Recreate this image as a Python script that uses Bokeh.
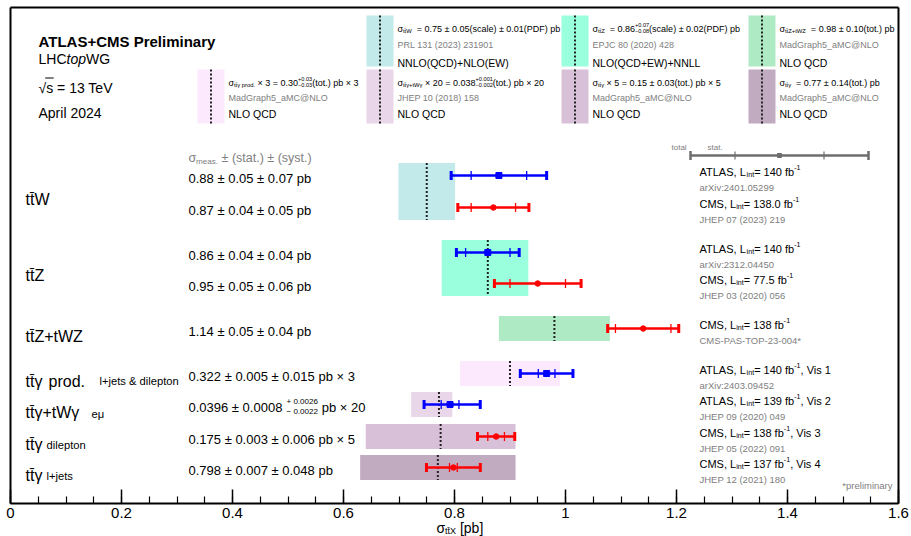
import math
from bokeh.plotting import figure
from bokeh.models import Range1d, FixedTicker, CustomJSTickFormatter, ColumnDataSource
from bokeh.embed import file_html
from bokeh.resources import INLINE
from bokeh.core.properties import value

TT = "tt\u0304"

# ---------------- data ----------------
group_parts = [
    [("n", TT + "W")],
    [("n", TT + "Z")],
    [("n", TT + "Z+tWZ")],
    [("n", TT + "γ"), ("at", 48, "prod.", 0, 1.0), ("at", 99, "l+jets & dilepton", 0, 0.7)],
    [("n", TT + "γ+tWγ"), ("at", 91, "eμ", 2, 0.7)],
    [("n", TT + "γ"), ("at", 46, "dilepton", 1, 0.7)],
    [("n", TT + "γ"), ("at", 46, "l+jets", 1, 0.7)],
]

meas_group = [0, 0, 1, 1, 2, 3, 4, 5, 6]
meas_exp = ["ATLAS", "CMS", "ATLAS", "CMS", "CMS", "ATLAS", "ATLAS", "CMS", "CMS"]
meas_value = [0.88, 0.87, 0.86, 0.95, 1.14, 0.322, 0.0396, 0.175, 0.798]
meas_stat = [0.05, 0.04, 0.04, 0.05, 0.05, 0.005, 0.0008, 0.003, 0.007]
meas_syst_up = [0.07, 0.05, 0.04, 0.06, 0.04, 0.015, 0.0026, 0.006, 0.048]
meas_syst_dn = [0.07, 0.05, 0.04, 0.06, 0.04, 0.015, 0.0022, 0.006, 0.048]
meas_factor = [1, 1, 1, 1, 1, 3, 20, 5, 1]
meas_lumi = ["140", "138.0", "140", "77.5", "138", "140", "139", "138", "137"]
meas_vis = ["", "", "", "", "", ", Vis 1", ", Vis 2", ", Vis 3", ", Vis 4"]
meas_ref = ["arXiv:2401.05299", "JHEP 07 (2023) 219", "arXiv:2312.04450",
            "JHEP 03 (2020) 056", "CMS-PAS-TOP-23-004*", "arXiv:2403.09452",
            "JHEP 09 (2020) 049", "JHEP 05 (2022) 091", "JHEP 12 (2021) 180"]
meas_text = [
    [("n", "0.88 ± 0.05 ± 0.07 pb")],
    [("n", "0.87 ± 0.04 ± 0.05 pb")],
    [("n", "0.86 ± 0.04 ± 0.04 pb")],
    [("n", "0.95 ± 0.05 ± 0.06 pb")],
    [("n", "1.14 ± 0.05 ± 0.04 pb")],
    [("n", "0.322 ± 0.005 ± 0.015 pb × 3")],
    [("n", "0.0396 ± 0.0008 "), ("stack", ("+ 0.0026", "− 0.0022")), ("n", " pb × 20")],
    [("n", "0.175 ± 0.003 ± 0.006 pb × 5")],
    [("n", "0.798 ± 0.007 ± 0.048 pb")],
]

theory_value = [0.75, 0.86, 0.98, 0.30, 0.0386, 0.155, 0.77]
theory_up = [0.051, 0.073, 0.10, 0.03, 0.0012, 0.027, 0.14]
theory_dn = [0.051, 0.083, 0.10, 0.03, 0.0025, 0.027, 0.14]
theory_factor = [1, 1, 1, 3, 20, 5, 1]
theory_colors = ["#c2eaea", "#99ffdd", "#aeeac4", "#fde9fd", "#e9d6e9", "#d8c1d8", "#c1abc1"]
theory_formula = [
    [("n", "σ"), ("sub", TT + "W"), ("n", "  = 0.75 ± 0.05(scale) ± 0.01(PDF) pb")],
    [("n", "σ"), ("sub", TT + "Z"), ("n", "  = 0.86"), ("stack", ("+0.07", "−0.08")), ("n", "(scale) ± 0.02(PDF) pb")],
    [("n", "σ"), ("sub", TT + "Z+tWZ"), ("n", "  = 0.98 ± 0.10(tot.) pb")],
    [("n", "σ"), ("sub", TT + "γ prod."), ("n", " × 3 = 0.30"), ("stack", ("+0.03", "−0.03")), ("n", "(tot.) pb × 3")],
    [("n", "σ"), ("sub", TT + "γ+tWγ"), ("n", " × 20 = 0.038"), ("stack", ("+0.001", "−0.002")), ("n", "(tot.) pb × 20")],
    [("n", "σ"), ("sub", TT + "γ"), ("n", " × 5 = 0.15 ± 0.03(tot.) pb × 5")],
    [("n", "σ"), ("sub", TT + "γ"), ("n", "  = 0.77 ± 0.14(tot.) pb")],
]
theory_ref = ["PRL 131 (2023) 231901", "EPJC 80 (2020) 428", "MadGraph5_aMC@NLO",
              "MadGraph5_aMC@NLO", "JHEP 10 (2018) 158", "MadGraph5_aMC@NLO", "MadGraph5_aMC@NLO"]
theory_model = ["NNLO(QCD)+NLO(EW)", "NLO(QCD+EW)+NNLL", "NLO QCD", "NLO QCD",
                "NLO QCD", "NLO QCD", "NLO QCD"]

x_ticks = [0.0, 0.2, 0.4, 0.6, 0.8, 1.0, 1.2, 1.4, 1.6]
x_minor = [round(0.05 * k, 2) for k in range(33)]
X_MIN, X_MAX = 0.0, 1.6

# ---------------- layout (page pixels; canvas sits at page 0,0) ----------------
AX_L, AX_R, AX_T, AX_B = 10.0, 898.0, 7.0, 503.0     # drawn box / axis extents
CANVAS_W, CANVAS_H = 911, 536
PPU = (AX_R - AX_L) / (X_MAX - X_MIN)
def X(px):
    return X_MIN + (px - AX_L) / PPU
FR_L, FR_R, FR_T = 1, 910, 3   # plotting frame (covers the axis area and tick labels)

row_y = [175, 207, 252, 283, 328, 373, 404, 436, 467]
band_half = 12.5
legend_slots = [(366, 0), (561, 0), (748, 0), (197, 1), (366, 1), (561, 1), (748, 1)]
legend_box = [(15, 66), (69, 123)]
legend_text_y = [(25, 41, 59), (79, 94, 110)]
SW = 27

FONT = "Liberation Sans"
BLUE, RED, GRAY = "#0000ff", "#ff0000", "#808080"

# Arial / Liberation Sans advance widths (1/1000 em)
W = {' ': 278, '(': 333, ')': 333, '*': 389, '+': 584, ',': 278, '-': 333, '.': 278,
     '/': 278, ':': 278, '=': 584, '@': 1015, '&': 667, '_': 556, '[': 278, ']': 278,
     'A': 667, 'B': 667, 'C': 722, 'D': 722, 'E': 667, 'F': 611, 'G': 778, 'H': 722,
     'I': 278, 'J': 500, 'K': 667, 'L': 556, 'M': 833, 'N': 722, 'O': 778, 'P': 667,
     'Q': 778, 'R': 722, 'S': 667, 'T': 611, 'U': 722, 'V': 667, 'W': 944, 'X': 667,
     'Y': 667, 'Z': 611, 'a': 556, 'b': 556, 'c': 500, 'd': 556, 'e': 556, 'f': 278,
     'g': 556, 'h': 556, 'i': 222, 'j': 222, 'k': 500, 'l': 222, 'm': 833, 'n': 556,
     'o': 556, 'p': 556, 'q': 556, 'r': 333, 's': 500, 't': 278, 'u': 556, 'v': 500,
     'w': 722, 'x': 500, 'y': 500, 'z': 500, '±': 584, '×': 584, 'σ': 600, 'γ': 500,
     'μ': 576, '−': 584, '√': 549, '\u0304': 0}
for d in "0123456789":
    W[d] = 556

def tw(s, size):
    return sum(W.get(ch, 556) for ch in s) / 1000.0 * size

T = dict(x=[], y=[], text=[], size=[], color=[], style=[])
def put(xpx, ybase, s, size, color="black", style="normal"):
    # SVG collapses leading blanks: advance by their width instead
    n = len(s) - len(s.lstrip(" "))
    xpx += tw(s[:n], size)
    s = s.strip(" ")
    if not s:
        return
    T["x"].append(X(xpx)); T["y"].append(ybase); T["text"].append(s)
    T["size"].append("%.2fpx" % size); T["color"].append(color); T["style"].append(style)

def rich(xpx, ymid, parts, size, color="black"):
    base = ymid + 0.36 * size
    x = xpx
    for part in parts:
        kind, s = part[0], part[1]
        if kind == "n":
            put(x, base, s, size, color); x += tw(s, size)
        elif kind == "it":
            put(x, base, s, size, color, "italic"); x += tw(s, size)
        elif kind == "b":
            put(x, base, s, size, color, "bold"); x += tw(s, size) * 1.08
        elif kind == "sub":
            ss = size * 0.65
            put(x, base + 0.25 * size, s, ss, color); x += tw(s, ss)
        elif kind == "sup":
            ss = size * 0.65
            put(x, base - 0.42 * size, s, ss, color); x += tw(s, ss)
        elif kind == "stack":
            up, dn = s
            ss = size * 0.62
            put(x, base - 0.40 * size, up, ss, color)
            put(x, base + 0.30 * size, dn, ss, color)
            x += max(tw(up, ss), tw(dn, ss))
        elif kind == "at":
            put(s, base + part[3], part[2], size * part[4], color)
    return x

# ---------------- figure ----------------
p = figure(width=CANVAS_W, height=CANVAS_H,
           x_range=Range1d(X(FR_L), X(FR_R)), y_range=Range1d(CANVAS_H, FR_T),
           output_backend="svg", toolbar_location=None, y_axis_location=None,
           min_border_left=int(FR_L), min_border_right=int(CANVAS_W - FR_R),
           min_border_top=int(FR_T), min_border_bottom=0)
p.xgrid.visible = False
p.ygrid.visible = False
p.outline_line_color = None
p.background_fill_color = "white"
p.border_fill_color = "white"

ax = p.xaxis[0]
ax.fixed_location = AX_B
ax.bounds = (X_MIN, X_MAX)
ax.ticker = FixedTicker(ticks=x_ticks, minor_ticks=x_minor)
ax.formatter = CustomJSTickFormatter(code="return tick.toFixed(1).replace(/\\.0$/, '');")
ax.axis_line_width = 2
ax.major_tick_in = 14
ax.major_tick_out = 0
ax.minor_tick_in = 7
ax.minor_tick_out = 0
ax.major_tick_line_width = 1.5
ax.minor_tick_line_width = 1.2
ax.major_label_standoff = 4
ax.major_label_text_font = FONT
ax.major_label_text_font_size = "15px"
ax.major_label_text_color = "black"

# box around the plot (top, left, right)
p.segment(x0=[X_MIN, X_MAX, X_MIN], x1=[X_MIN, X_MAX, X_MAX], y0=[AX_T, AX_T, AX_T],
          y1=[AX_B, AX_B, AX_T], line_color="black", line_width=2)

# theory bands
b_l, b_r, b_t, b_b, b_c = [], [], [], [], []
for g in range(len(theory_value)):
    f = theory_factor[g]
    ys = [row_y[i] for i in range(len(meas_group)) if meas_group[i] == g]
    b_c.append(theory_value[g] * f)
    b_l.append((theory_value[g] - theory_dn[g]) * f)
    b_r.append((theory_value[g] + theory_up[g]) * f)
    b_t.append(min(ys) - band_half)
    b_b.append(max(ys) + band_half)
p.quad(left=b_l, right=b_r, top=b_t, bottom=b_b, fill_color=theory_colors, line_color=None)
p.segment(x0=b_c, x1=b_c, y0=b_t, y1=b_b, line_color="#222222", line_width=2, line_dash="2 2")

# measurements
cen, lo, hi, slo, shi, cols = [], [], [], [], [], []
for i in range(len(meas_value)):
    f = meas_factor[i]
    c = meas_value[i] * f
    cen.append(c)
    lo.append(c - math.hypot(meas_stat[i], meas_syst_dn[i]) * f)
    hi.append(c + math.hypot(meas_stat[i], meas_syst_up[i]) * f)
    slo.append(c - meas_stat[i] * f)
    shi.append(c + meas_stat[i] * f)
    cols.append(BLUE if meas_exp[i] == "ATLAS" else RED)
yu = [y - 4.5 for y in row_y]
yd = [y + 4.5 for y in row_y]
p.segment(x0=lo, x1=hi, y0=row_y, y1=row_y, line_color=cols, line_width=2.6)
p.segment(x0=lo, x1=lo, y0=yu, y1=yd, line_color=cols, line_width=3)
p.segment(x0=hi, x1=hi, y0=yu, y1=yd, line_color=cols, line_width=3)
p.segment(x0=slo, x1=slo, y0=yu, y1=yd, line_color=cols, line_width=1.3)
p.segment(x0=shi, x1=shi, y0=yu, y1=yd, line_color=cols, line_width=1.3)
ia = [i for i in range(len(meas_exp)) if meas_exp[i] == "ATLAS"]
ic = [i for i in range(len(meas_exp)) if meas_exp[i] == "CMS"]
p.scatter([cen[i] for i in ia], [row_y[i] for i in ia], marker="square", size=6,
          fill_color=BLUE, line_color=BLUE)
p.scatter([cen[i] for i in ic], [row_y[i] for i in ic], marker="circle", size=5.5,
          fill_color=RED, line_color=RED)

# legend swatches for theory
sw_l, sw_r, sw_t, sw_b, sw_c = [], [], [], [], []
for g, (bl, r) in enumerate(legend_slots):
    sw_l.append(X(bl)); sw_r.append(X(bl + SW)); sw_c.append(X(bl + SW / 2))
    sw_t.append(legend_box[r][0]); sw_b.append(legend_box[r][1])
    ty = legend_text_y[r]
    tx = bl + SW + 4
    rich(tx, ty[0], theory_formula[g], 9)
    rich(tx, ty[1], [("n", theory_ref[g])], 9, GRAY)
    rich(tx, ty[2], [("n", theory_model[g])], 10.5)
p.quad(left=sw_l, right=sw_r, top=sw_t, bottom=sw_b, fill_color=theory_colors, line_color=None)
p.segment(x0=sw_c, x1=sw_c, y0=sw_t, y1=sw_b, line_color="#222222", line_width=2, line_dash="2 2")

# total / stat key
kc, kt, ks, ky = 779, 89, 44.5, 155
kcol = "#6e6e6e"
p.segment(x0=[X(kc - kt)], x1=[X(kc + kt)], y0=[ky], y1=[ky], line_color=kcol, line_width=2.6)
p.segment(x0=[X(kc - kt), X(kc + kt)], x1=[X(kc - kt), X(kc + kt)], y0=[ky - 4.5] * 2,
          y1=[ky + 4.5] * 2, line_color=kcol, line_width=2.5)
p.segment(x0=[X(kc - ks), X(kc + ks)], x1=[X(kc - ks), X(kc + ks)], y0=[ky - 4] * 2,
          y1=[ky + 4] * 2, line_color=kcol, line_width=1.2)
p.scatter([X(kc)], [ky], marker="square", size=4, fill_color=kcol, line_color=kcol)
rich(671, 144, [("n", "total")], 8, GRAY)
rich(707, 144, [("n", "stat.")], 8, GRAY)

# header texts
rich(38, 36, [("b", "ATLAS+CMS Preliminary")], 15)
rich(38, 53, [("n", "LHC"), ("it", "top"), ("n", "WG")], 14)
rich(38, 82, [("n", "√s = 13 TeV")], 14)
rich(38, 107, [("n", "April 2024")], 14)
# overbar of the square root
sq0 = 38 + tw("√", 14) - 1
p.segment(x0=[X(sq0)], x1=[X(sq0 + tw("s", 14) + 1.5)], y0=[77.5], y1=[77.5],
          line_color="black", line_width=1)

# group labels
for g, parts in enumerate(group_parts):
    ys = [row_y[i] for i in range(len(meas_group)) if meas_group[i] == g]
    rich(25, sum(ys) / len(ys) + 2, parts, 16)

# measurement texts
rich(188, 153, [("n", "σ"), ("sub", "meas."), ("n", " ± (stat.) ± (syst.)")], 12.5, GRAY)
for i in range(len(meas_value)):
    rich(188, row_y[i] - 2, meas_text[i], 13)
    rich(699, row_y[i] - 7, [("n", meas_exp[i] + ", L"), ("sub", "int"),
                            ("n", "= " + meas_lumi[i] + " fb"), ("sup", "-1"),
                            ("n", meas_vis[i])], 11)
    rich(699, row_y[i] + 8.5, [("n", meas_ref[i])], 9.5, GRAY)

pre = "*preliminary"
rich(892 - tw(pre, 9.5), 482, [("n", pre)], 9.5, GRAY)

# axis title
rich(436, 522, [("n", "σ"), ("sub", TT + "X"), ("n", " [pb]")], 14)

src = ColumnDataSource(T)
p.text(x="x", y="y", text="text", source=src, text_font=value(FONT),
       text_font_size="size", text_color="color", text_font_style="style",
       text_baseline="alphabetic", text_align="left")

open("out.html", "w").write(file_html(p, INLINE))
